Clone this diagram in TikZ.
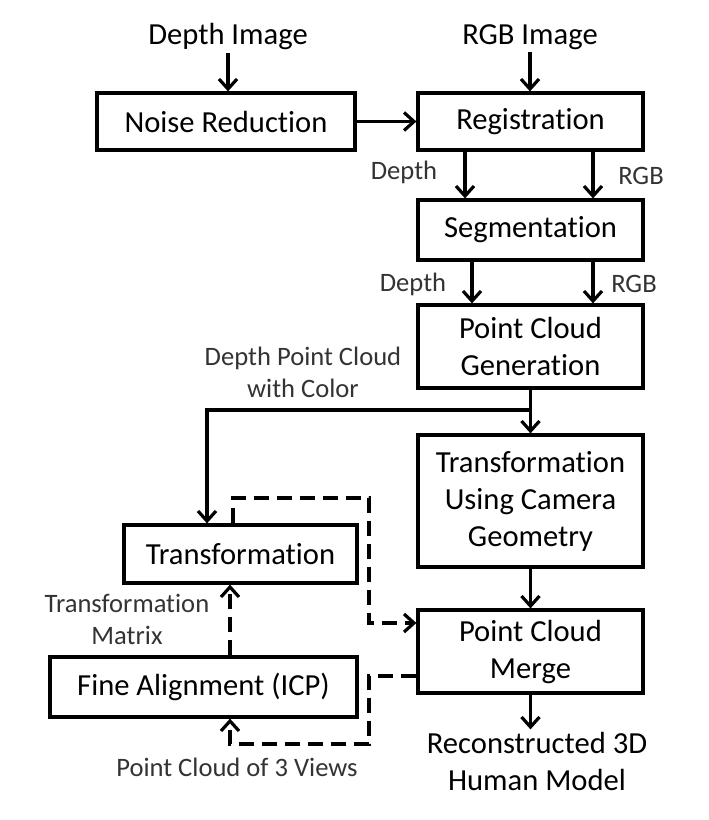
\documentclass[tikz,border=0pt]{standalone}
\usepackage{fontspec}
\setmainfont[Ligatures=NoCommon]{Carlito}
\usetikzlibrary{arrows.meta}
\begin{document}
\begin{tikzpicture}[x=0.5pt,y=-0.5pt,
  box/.style={draw,line width=1.6pt,align=center,inner sep=0pt,font=\fontsize{15.3}{18.5}\selectfont},
  title/.style={align=center,inner sep=1pt,font=\fontsize{15.3}{18.5}\selectfont},
  lbl/.style={align=center,inner sep=0pt,text=black!80,font=\fontsize{13.3}{16}\selectfont},
  flow/.style={line width=1.6pt,-{Straight Barb[length=5pt,width=9pt]}},
  feedback/.style={line width=1.6pt,dash pattern=on 7.5pt off 4pt}]
\useasboundingbox (0,0) rectangle (708,820);
\node[title] (dimg) at (228,37) {Depth Image};
\node[title] (rimg) at (530,37) {RGB Image};
\node[box,minimum width=129pt,minimum height=28.5pt] (noise) at (226,121.5) {Noise Reduction};
\node[box,minimum width=112.5pt,minimum height=28.5pt] (reg) at (530.5,121.5) {Registration};
\node[box,minimum width=112.5pt,minimum height=30pt] (seg) at (530.5,230) {Segmentation};
\node[box,minimum width=112.5pt,minimum height=41.5pt] (pcg) at (530.5,346.5) {Point Cloud\\Generation};
\node[box,minimum width=112.5pt,minimum height=66pt] (cam) at (530.5,501) {Transformation\\Using Camera\\Geometry};
\node[box,minimum width=112.5pt,minimum height=41.5pt] (merge) at (530.5,651.5) {Point Cloud\\Merge};
\node[box,minimum width=116.5pt,minimum height=29pt] (trans) at (240.5,554) {Transformation};
\node[box,minimum width=153.5pt,minimum height=30pt] (icp) at (203.5,687) {Fine Alignment (ICP)};
\node[title] (model) at (537,761) {Reconstructed 3D\\Human Model};
\node[lbl] (regdepth) at (404,172) {Depth};
\node[lbl] (regrgb) at (641,176) {RGB};
\node[lbl] (segdepth) at (413,284) {Depth};
\node[lbl] (segrgb) at (634,284) {RGB};
\node[lbl] (cloudlbl) at (303,372) {Depth Point Cloud\\with Color};
\node[lbl] (matlbl) at (127,619) {Transformation\\Matrix};
\node[lbl] (viewlbl) at (237,767) {Point Cloud of 3 Views};
\draw[flow] (dimg.south) -- (dimg.south |- noise.north);
\draw[flow] (rimg.south) -- (rimg.south |- reg.north);
\draw[flow] (noise) -- (reg);
\draw[flow] (reg.south -| 465,0) -- (seg.north -| 465,0);
\draw[flow] (reg.south -| 593,0) -- (seg.north -| 593,0);
\draw[flow] (seg.south -| 472,0) -- (pcg.north -| 472,0);
\draw[flow] (seg.south -| 593,0) -- (pcg.north -| 593,0);
\coordinate (split) at (530.5,410);
\draw[flow] (pcg.south) -- (split) -- (cam.north);
\draw[flow] (split) -- (207,410) -- (trans.north -| 207,0);
\draw[flow] (cam) -- (merge);
\draw[flow] (merge.south) -- (merge.south |- model.north);
% dashed feedback loop
\draw[feedback,-{Straight Barb[length=5pt,width=9pt]}] (trans.north -| 233,0) -- (233,498) -- (369,498) -- (369,623) -- (merge.west |- 0,623);
\draw[feedback,-{Straight Barb[length=5pt,width=9pt]}] (icp.north -| 230,0) -- (trans.south -| 230,0);
\draw[feedback,-{Straight Barb[length=5pt,width=9pt]}] (merge.west |- 0,676) -- (369,676) -- (369,744) -- (230,744) -- (icp.south -| 230,0);
\end{tikzpicture}
\end{document}
